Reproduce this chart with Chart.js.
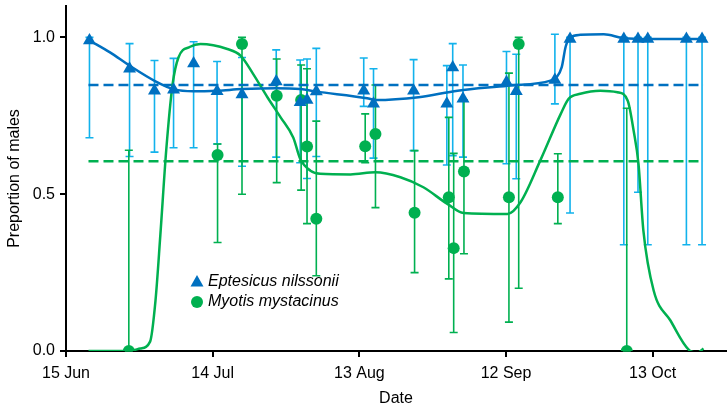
<!DOCTYPE html>
<html lang="en">
<head>
    <meta charset="UTF-8">
    <title>Proportion of males</title>
    <script src="https://cdn.jsdelivr.net/npm/chart.js"></script>
    <style>
        body { margin: 0; background: #fff; }
        #wrap { width: 728px; height: 411px; }
    </style>
</head>
<body>
    <div id="wrap"><canvas id="chart"></canvas></div>

    <script>
        // x = days after 15 Jun
        const tickDays = [0, 30, 60, 90, 120];
        const tickLabels = ['15 Jun', '14 Jul', '13 Aug', '12 Sep', '13 Oct'];
        const yTicks = [0, 0.5, 1.0];

        // Eptesicus nilssonii
        const enDay = [4.8, 13.0, 18.1, 22.0, 26.1, 30.9, 36.0, 43.0, 47.9, 49.3, 51.2, 60.9, 62.9, 71.1, 77.9, 79.1, 81.2, 90.1, 92.1, 100.0, 103.1, 114.1, 117.0, 119.0, 126.9, 130.1];
        const enProp = [0.99, 0.90, 0.83, 0.833, 0.917, 0.828, 0.818, 0.859, 0.793, 0.80, 0.827, 0.830, 0.788, 0.830, 0.788, 0.904, 0.804, 0.857, 0.828, 0.864, 0.995, 0.995, 0.995, 0.995, 0.995, 0.995];
        const enLow = [0.68, 0.62, 0.634, 0.648, 0.648, 0.66, 0.589, 0.618, 0.60, 0.55, 0.62, 0.78, 0.615, 0.639, 0.593, 0.623, 0.618, 0.597, 0.549, 0.788, 0.44, 0.339, 0.506, 0.339, 0.339, 0.339];
        const enHigh = [1.0, 0.98, 0.926, 0.933, 0.986, 0.923, 0.936, 0.96, 0.928, 0.931, 0.965, 0.934, 0.90, 0.929, 0.91, 0.98, 0.912, 0.955, 0.946, 1.01, 1.0, 1.0, 1.0, 1.0, 1.0, 1.0];
        const enMean = 0.848;
        const enFitDay = [4.8, 9.0, 13.0, 18.3, 22.0, 26.0, 31.0, 35.9, 43.0, 47.9, 51.2, 61.6, 63.3, 72.1, 80.1, 90.3, 99.1, 100.3, 101.4, 102.2, 103.2, 105.2, 110.0, 114.0, 119.6, 130.4];
        const enFit = [0.99, 0.952, 0.91, 0.86, 0.835, 0.828, 0.83, 0.835, 0.838, 0.835, 0.827, 0.806, 0.80, 0.809, 0.83, 0.846, 0.862, 0.872, 0.905, 0.97, 1.0, 1.008, 1.01, 0.998, 0.995, 0.995];

        // Myotis mystacinus
        const mmDay = [12.85, 31.0, 36.0, 43.1, 48.1, 49.3, 51.2, 61.2, 63.3, 71.3, 78.3, 79.3, 81.4, 90.6, 92.6, 100.6, 114.7];
        const mmProp = [0.0, 0.625, 0.979, 0.814, 0.80, 0.652, 0.422, 0.653, 0.692, 0.441, 0.49, 0.328, 0.572, 0.49, 0.979, 0.49, 0.0];
        const mmLow = [0, 0.346, 0.50, 0.537, 0.513, 0.406, 0.24, 0.60, 0.457, 0.25, 0.23, 0.059, 0.31, 0.092, 0.20, 0.406, 0];
        const mmHigh = [0.64, 0.66, 1.0, 0.931, 0.912, 0.90, 0.733, 0.756, 0.848, 0.639, 0.745, 0.63, 0.80, 0.886, 1.0, 0.629, 0.774];
        const mmMean = 0.605;
        const mmFitDay = [4.6, 12.7, 15.2, 17.2, 18.3, 19.3, 20.5, 21.8, 23.0, 25.4, 27.5, 33.0, 35.7, 38.3, 41.2, 43.9, 46.5, 47.9, 50.0, 52.0, 58.2, 63.3, 68.4, 73.1, 78.0, 81.3, 90.3, 93.0, 97.0, 101.2, 102.8, 105.2, 109.3, 112.8, 114.9, 116.1, 117.1, 118.1, 120.2, 123.6, 127.7, 129.2, 130.4];
        const mmFit = [0.0, 0.0, 0.008, 0.03, 0.16, 0.37, 0.64, 0.85, 0.936, 0.97, 0.979, 0.963, 0.942, 0.883, 0.809, 0.745, 0.68, 0.613, 0.575, 0.565, 0.563, 0.57, 0.554, 0.522, 0.469, 0.44, 0.437, 0.475, 0.607, 0.756, 0.804, 0.82, 0.83, 0.825, 0.798, 0.703, 0.597, 0.384, 0.193, 0.098, 0.0, -0.005, 0.008];

        const blue = '#0070c0';
        const cyan = '#12b2ec';
        const green = '#00b050';

        const pts = (xs, ys) => xs.map((d, i) => ({ x: d, y: ys[i] }));

        const errorBars = {
            id: 'errorBars',
            beforeDatasetsDraw(chart) {
                const { ctx, scales: { x, y } } = chart;
                function draw(days, lo, hi, color) {
                    ctx.save();
                    ctx.strokeStyle = color;
                    ctx.lineWidth = 1.6;
                    days.forEach((d, i) => {
                        const px = x.getPixelForValue(d);
                        const y1 = y.getPixelForValue(lo[i]);
                        const y2 = y.getPixelForValue(hi[i]);
                        ctx.beginPath();
                        ctx.moveTo(px, y1); ctx.lineTo(px, y2);
                        ctx.moveTo(px - 4, y1); ctx.lineTo(px + 4, y1);
                        ctx.moveTo(px - 4, y2); ctx.lineTo(px + 4, y2);
                        ctx.stroke();
                    });
                    ctx.restore();
                }
                draw(enDay, enLow, enHigh, cyan);
                draw(mmDay, mmLow, mmHigh, green);
            }
        };

        const insideLegend = {
            id: 'insideLegend',
            afterDraw(chart) {
                const { ctx, chartArea } = chart;
                const lx = chartArea.left + 131;
                const ly = chartArea.top + 276;
                ctx.save();
                ctx.fillStyle = blue;
                ctx.beginPath();
                ctx.moveTo(lx, ly - 7);
                ctx.lineTo(lx + 6.5, ly + 4.5);
                ctx.lineTo(lx - 6.5, ly + 4.5);
                ctx.closePath();
                ctx.fill();
                ctx.fillStyle = green;
                ctx.beginPath();
                ctx.arc(lx, ly + 20, 6, 0, Math.PI * 2);
                ctx.fill();
                ctx.fillStyle = '#000';
                ctx.font = 'italic 16px "Liberation Sans", Arial, sans-serif';
                ctx.textBaseline = 'middle';
                ctx.fillText('Eptesicus nilssonii', lx + 11, ly);
                ctx.fillText('Myotis mystacinus', lx + 11, ly + 20);
                ctx.restore();
            }
        };

        const font = { family: '"Liberation Sans", Arial, sans-serif', size: 16 };

        new Chart(document.getElementById('chart'), {
            type: 'scatter',
            data: {
                datasets: [
                    {
                        label: 'Eptesicus nilssonii',
                        data: pts(enDay, enProp),
                        pointStyle: 'triangle',
                        pointRadius: 7.5,
                        backgroundColor: blue,
                        borderColor: blue,
                        borderWidth: 0
                    },
                    {
                        label: 'Myotis mystacinus',
                        data: pts(mmDay, mmProp),
                        pointStyle: 'circle',
                        pointRadius: 6,
                        backgroundColor: green,
                        borderColor: green,
                        borderWidth: 0
                    },
                    {
                        data: pts(enFitDay, enFit),
                        showLine: true,
                        pointRadius: 0,
                        borderColor: blue,
                        borderWidth: 2.5,
                        cubicInterpolationMode: 'monotone'
                    },
                    {
                        data: pts(mmFitDay, mmFit),
                        showLine: true,
                        pointRadius: 0,
                        borderColor: green,
                        borderWidth: 2.5,
                        cubicInterpolationMode: 'monotone'
                    },
                    {
                        data: pts([4.6, 130.4], [enMean, enMean]),
                        showLine: true,
                        pointRadius: 0,
                        borderColor: blue,
                        borderWidth: 2.5,
                        borderDash: [10, 5]
                    },
                    {
                        data: pts([4.6, 130.4], [mmMean, mmMean]),
                        showLine: true,
                        pointRadius: 0,
                        borderColor: green,
                        borderWidth: 2.5,
                        borderDash: [10, 5]
                    }
                ]
            },
            options: {
                responsive: true,
                maintainAspectRatio: false,
                animation: false,
                layout: { autoPadding: false, padding: { top: 6, right: 2, left: 0, bottom: 0 } },
                plugins: {
                    legend: { display: false },
                    tooltip: { enabled: false }
                },
                scales: {
                    x: {
                        type: 'linear',
                        min: 0,
                        max: 135,
                        afterBuildTicks: axis => { axis.ticks = tickDays.map(v => ({ value: v })); },
                        afterFit: axis => { axis.height = 60; axis.paddingLeft = 0; axis.paddingRight = 0; },
                        ticks: {
                            color: '#000',
                            font: font,
                            padding: 7,
                            maxRotation: 0,
                            callback: v => tickLabels[tickDays.indexOf(v)]
                        },
                        grid: { drawOnChartArea: false, drawTicks: true, tickLength: 6, color: '#000', lineWidth: 2 },
                        border: { color: '#000', width: 2 },
                        title: { display: true, text: 'Date', color: '#000', font: font, padding: 3 }
                    },
                    y: {
                        min: 0,
                        max: 1.1,
                        afterBuildTicks: axis => { axis.ticks = yTicks.map(v => ({ value: v })); },
                        afterFit: axis => { axis.width = 66; axis.paddingTop = 0; axis.paddingBottom = 0; },
                        ticks: {
                            color: '#000',
                            font: font,
                            padding: 5,
                            callback: v => v.toFixed(1)
                        },
                        grid: { drawOnChartArea: false, drawTicks: true, tickLength: 6, color: '#000', lineWidth: 2 },
                        border: { color: '#000', width: 2 },
                        title: { display: true, text: 'Preportion of males', color: '#000', font: font, padding: 5 }
                    }
                }
            },
            plugins: [errorBars, insideLegend]
        });
    </script>
</body>
</html>
